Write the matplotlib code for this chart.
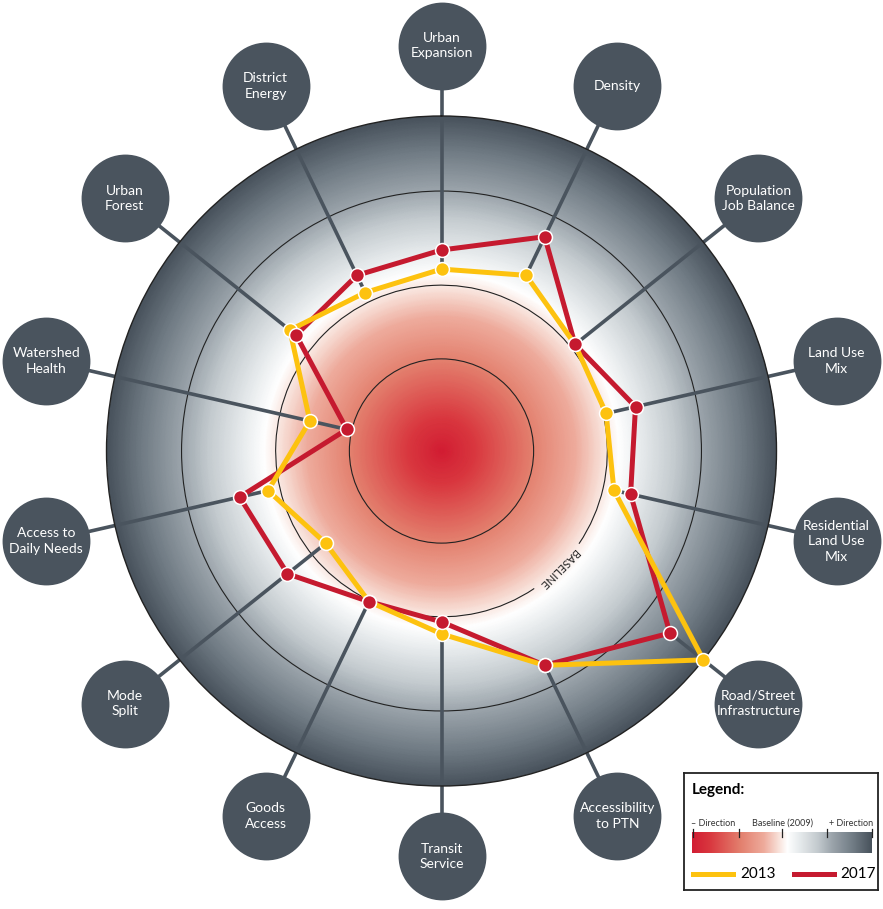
import numpy as np
import matplotlib.pyplot as plt
from matplotlib.colors import LinearSegmentedColormap
from matplotlib.patches import Circle, Arc

# indicator names, clockwise from the top
categories = ["Urban\nExpansion", "Density", "Population\nJob Balance", "Land Use\nMix",
              "Residential\nLand Use\nMix", "Road/Street\nInfrastructure", "Accessibility\nto PTN",
              "Transit\nService", "Goods\nAccess", "Mode\nSplit", "Access to\nDaily Needs",
              "Watershed\nHealth", "Urban\nForest", "District\nEnergy"]

# scores on a 0-100 radial scale (baseline 2009 ring sits at ~49.5)
scores_2013 = [54.3, 58.2, 51.0, 50.4, 52.8, 100.0, 71.0, 54.6, 49.9, 44.2, 53.1, 40.3, 57.9, 52.5]
scores_2017 = [60.0, 71.0, 51.0, 59.4, 57.9, 87.2, 71.0, 51.0, 49.9, 58.8, 61.8, 29.0, 55.5, 58.2]
series_names = ["2013", "2017"]

rings = [27.5, 77.6]
baseline = 49.5

YELLOW = "#fdc20f"
RED = "#c51a2f"
SLATE = "#4a545e"
FONT = "Lato"

cmap = LinearSegmentedColormap.from_list("dir", [
    (0.00, "#d21d33"), (0.10, "#d9383f"), (0.27, "#e3806e"), (0.40, "#eeab9c"),
    (0.48, "#f8e0d8"), (0.53, "#ffffff"), (0.60, "#e6eaec"), (0.70, "#c3cace"),
    (0.78, "#9ba4ab"), (0.90, "#6f7a83"), (1.00, "#48525c")])

W, H = 883, 909
fig = plt.figure(figsize=(W / 100, H / 100), dpi=100)
cx, cy, R = 441.5, H - 451, 335
ax = fig.add_axes([(cx - R) / W, (cy - R) / H, 2 * R / W, 2 * R / H], projection="polar")
ax.set_theta_zero_location("N")
ax.set_theta_direction(-1)
ax.set_ylim(0, 100)
ax.set_xticks([])
ax.set_yticks([])
ax.grid(False)
ax.spines["polar"].set_color("#222222")
ax.spines["polar"].set_linewidth(1.0)

# radial background gradient
th = np.linspace(0, 2 * np.pi, 361)
rr = np.linspace(0, 100, 200)
T, Rr = np.meshgrid(th, rr)
ax.pcolormesh(T, Rr, Rr, cmap=cmap, vmin=0, vmax=100, shading="gouraud", zorder=0)

# reference rings (axes is square, so axes-fraction circles stay round)
for r in rings:
    ax.add_patch(Circle((0.5, 0.5), r / 200, transform=ax.transAxes, fill=False,
                        ec="#222222", lw=0.8, zorder=1))

# baseline ring, broken where its label sits
ax.add_patch(Arc((0.5, 0.5), baseline / 100, baseline / 100, theta1=-34, theta2=304,
                 transform=ax.transAxes, ec="#222222", lw=0.8, zorder=1))
ax.text(np.deg2rad(135), baseline, "BASELINE", rotation=-135, rotation_mode="anchor",
        ha="center", va="center", fontsize=8, color="#222222", family=FONT, zorder=1)

n = len(categories)
angles = np.arange(n) * 2 * np.pi / n
bubble_r = 121

# spokes from the innermost point out to each label bubble
for a, s13, s17 in zip(angles, scores_2013, scores_2017):
    ax.plot([a, a], [min(s13, s17), bubble_r], color=SLATE, lw=2.6, clip_on=False, zorder=2,
            solid_capstyle="butt")

ax.scatter(angles, np.full(n, bubble_r), s=4000, color=SLATE, clip_on=False, zorder=6,
           linewidths=0)
for a, name in zip(angles, categories):
    ax.text(a, bubble_r, name, ha="center", va="center", color="white", fontsize=10,
            family=FONT, linespacing=1.35, clip_on=False, zorder=7)

loop = np.append(angles, angles[0])
v13 = np.append(scores_2013, scores_2013[0])
v17 = np.append(scores_2017, scores_2017[0])
ax.plot(loop, v17, color=RED, lw=3.6, zorder=3, clip_on=False, solid_joinstyle="round")
ax.plot(loop, v13, color=YELLOW, lw=3.6, zorder=3.1, clip_on=False, solid_joinstyle="round")
ax.plot(angles, scores_2013, "o", ms=10, mfc=YELLOW, mec="white", mew=1.1, zorder=4,
        clip_on=False)
ax.plot(angles, scores_2017, "o", ms=10, mfc=RED, mec="white", mew=1.1, zorder=4.1,
        clip_on=False)

# legend panel
lax = fig.add_axes([684 / W, 19 / H, 194 / W, 117 / H])
lax.set_xticks([])
lax.set_yticks([])
for sp in lax.spines.values():
    sp.set_linewidth(1.3)
    sp.set_color("#222222")
lax.text(8, 17, "Legend:", fontsize=11, fontweight="bold", family=FONT, va="center")
lax.text(7, 50, "\u2013 Direction", fontsize=6.5, family=FONT, va="center", color="#333333")
lax.text(98, 50, "Baseline (2009)", fontsize=6.5, family=FONT, va="center", ha="center",
         color="#333333")
lax.text(189, 50, "+ Direction", fontsize=6.5, family=FONT, va="center", ha="right",
         color="#333333")
grad = np.linspace(0, 1, 256)[None, :]
lax.imshow(grad, cmap=cmap, aspect="auto", extent=(8, 188, 80, 59), zorder=1)
for tx in [8.5, 55, 98, 143, 187.5]:
    lax.plot([tx, tx], [56, 64], color="#222222", lw=0.9, zorder=2)

lax.plot([9, 49], [101, 101], color=YELLOW, lw=3.6)
lax.text(56, 101, series_names[0], fontsize=11, family=FONT, va="center")
lax.plot([110, 150], [101, 101], color=RED, lw=3.6)
lax.text(156, 101, series_names[1], fontsize=11, family=FONT, va="center")
lax.set_xlim(0, 194)
lax.set_ylim(117, 0)

fig.savefig("out.png", dpi=100)
